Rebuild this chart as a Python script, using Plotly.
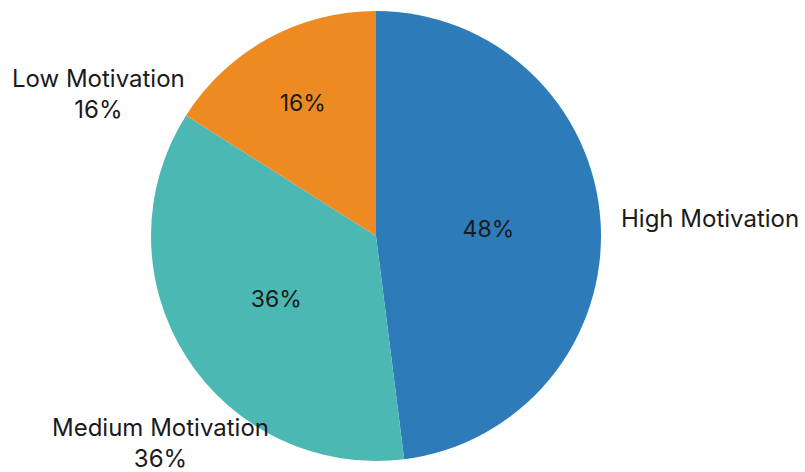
import plotly.graph_objects as go

# Motivation levels and their shares (%)
categories = ["High Motivation", "Medium Motivation", "Low Motivation"]
shares = [48, 36, 16]
colors = ["#2e7bb9", "#4bb8b4", "#ee8a22"]

# Outside label placement (paper coordinates) and whether to append the share
label_x = [0.882, 0.199, 0.122]
label_y = [0.538, 0.061, 0.801]
label_with_share = [False, True, True]

FONT = "Inter, Liberation Sans, Arial, sans-serif"

fig = go.Figure(
    go.Pie(
        labels=categories,
        values=shares,
        sort=False,
        direction="clockwise",
        rotation=0,
        marker=dict(colors=colors, line=dict(width=0)),
        texttemplate="%{value}%",
        textinfo="text",
        textposition="inside",
        insidetextorientation="horizontal",
        insidetextfont=dict(family=FONT, size=23, color="#1a1a1a"),
        hoverinfo="label+percent",
        showlegend=False,
        domain=dict(x=[151 / 805, 601 / 805], y=[10 / 472, 462 / 472]),
    )
)

for name, val, x, y, with_share in zip(categories, shares, label_x, label_y, label_with_share):
    text = f"{name}<br>{val}%" if with_share else name
    fig.add_annotation(
        x=x, y=y, xref="paper", yref="paper",
        text=text, showarrow=False, align="center",
        xanchor="center", yanchor="middle",
        font=dict(family=FONT, size=24, color="#1a1a1a"),
    )

fig.update_layout(
    width=805, height=472,
    margin=dict(l=0, r=0, t=0, b=0),
    paper_bgcolor="white", plot_bgcolor="white",
)

fig.write_html("out.html")
